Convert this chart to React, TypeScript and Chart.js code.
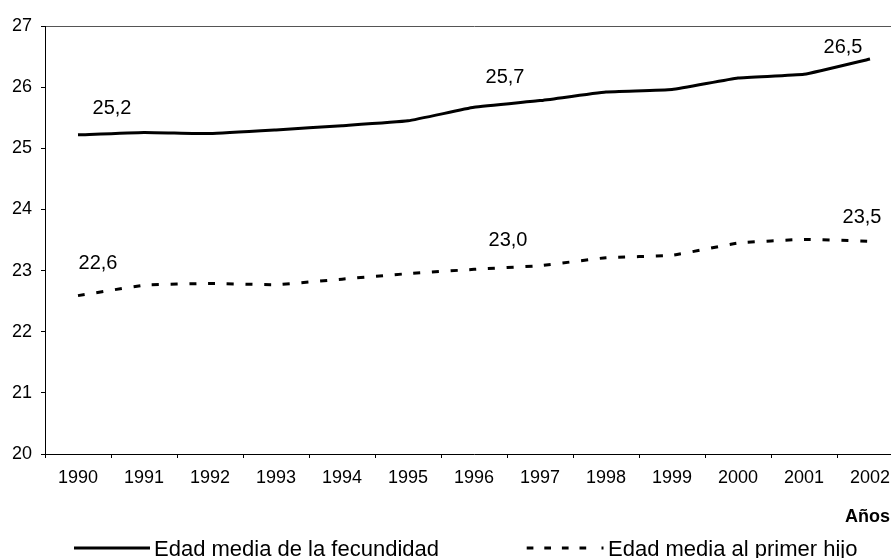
import React, { useEffect, useRef } from "react";
import { Chart, registerables } from "chart.js";

Chart.register(...registerables);

const years = ["1990", "1991", "1992", "1993", "1994", "1995", "1996", "1997", "1998", "1999", "2000", "2001", "2002"];
const fecundidad = [25.22, 25.26, 25.24, 25.3, 25.37, 25.45, 25.67, 25.78, 25.92, 25.96, 26.15, 26.21, 26.46];
const primerHijo = [22.59, 22.76, 22.79, 22.77, 22.86, 22.95, 23.02, 23.08, 23.21, 23.25, 23.45, 23.51, 23.48];
const labelIndices = [0, 6, 12];
const seriesNames = ["Edad media de la fecundidad", "Edad media al primer hijo"];
const axisTitle = "Años";
const yMin = 20;
const yMax = 27;
const yStep = 1;

// style: label offsets (px) from each labelled point
const labelOffsets = [
  [[34, -21], [31, -24], [-27, -6]],
  [[20, -27], [34, -23], [-8, -18]],
];

const FONT = "'Liberation Sans', Arial, sans-serif";

const fmt = (v: number) => v.toFixed(1).replace(".", ",");

const overlayPlugin = {
  id: "overlay",
  afterDatasetsDraw(chart: any) {
    const ctx = chart.ctx;
    ctx.save();
    ctx.fillStyle = "#000";
    ctx.textBaseline = "alphabetic";
    ctx.textAlign = "center";
    ctx.font = `20px ${FONT}`;
    [fecundidad, primerHijo].forEach((series, di) => {
      const meta = chart.getDatasetMeta(di);
      labelIndices.forEach((idx, k) => {
        const pt = meta.data[idx];
        const [dx, dy] = labelOffsets[di][k];
        ctx.fillText(fmt(series[idx]), pt.x + dx, pt.y + dy);
      });
    });

    // axis title
    ctx.font = `bold 18px ${FONT}`;
    ctx.textAlign = "right";
    ctx.fillText(axisTitle, 890, 521.5);

    // legend
    ctx.strokeStyle = "#000";
    ctx.lineWidth = 3;
    ctx.lineCap = "butt";
    ctx.beginPath();
    ctx.moveTo(74, 548);
    ctx.lineTo(150, 548);
    ctx.stroke();

    ctx.setLineDash([6.7, 10.9]);
    ctx.beginPath();
    ctx.moveTo(526.7, 548);
    ctx.lineTo(588, 548);
    ctx.stroke();
    ctx.setLineDash([]);
    ctx.beginPath();
    ctx.moveTo(601.5, 548);
    ctx.lineTo(603.5, 548);
    ctx.stroke();

    ctx.font = `22px ${FONT}`;
    ctx.textAlign = "left";
    ctx.fillText(seriesNames[0], 154, 555.5);
    ctx.fillText(seriesNames[1], 608, 555.5);
    ctx.restore();
  },
};

export default function App() {
  const ref = useRef<HTMLCanvasElement>(null);

  useEffect(() => {
    if (!ref.current) return;
    const chart = new Chart(ref.current, {
      type: "line",
      data: {
        labels: years,
        datasets: [
          {
            label: seriesNames[0],
            data: fecundidad,
            borderColor: "#000",
            borderWidth: 3,
            pointRadius: 0,
            tension: 0.12,
            fill: false,
          },
          {
            label: seriesNames[1],
            data: primerHijo,
            borderColor: "#000",
            borderWidth: 3,
            borderDash: [7, 11.7],
            pointRadius: 0,
            tension: 0.12,
            fill: false,
          },
        ],
      },
      options: {
        responsive: false,
        animation: false,
        layout: { padding: { top: 26, right: 7, left: 0, bottom: 0 } },
        plugins: { legend: { display: false }, tooltip: { enabled: false } },
        scales: {
          x: {
            type: "category",
            offset: true,
            afterFit(s: any) {
              s.height = 104;
            },
            grid: { offset: true, drawOnChartArea: false, tickLength: 4, color: "#000", tickColor: "#000" },
            border: { color: "#000", width: 1 },
            ticks: { color: "#000", padding: 9, maxRotation: 0, autoSkip: false, font: { family: FONT, size: 18 } },
          },
          y: {
            min: yMin,
            max: yMax,
            afterFit(s: any) {
              s.width = 45;
            },
            grid: {
              color: (c: any) => (c.tick && c.tick.value === yMax ? "#555" : "rgba(0,0,0,0)"),
              tickColor: "#000",
              tickLength: 4,
            },
            border: { color: "#000", width: 1 },
            ticks: { stepSize: yStep, color: "#000", padding: 9, font: { family: FONT, size: 18 } },
          },
        },
      },
      plugins: [overlayPlugin],
    });
    return () => chart.destroy();
  }, []);

  return (
    <div style={{ position: "absolute", left: 0, top: 0, width: 891, height: 558, overflow: "hidden", background: "#fff" }}>
      <canvas ref={ref} width={910} height={558} style={{ width: 910, height: 558, display: "block" }} />
    </div>
  );
}
